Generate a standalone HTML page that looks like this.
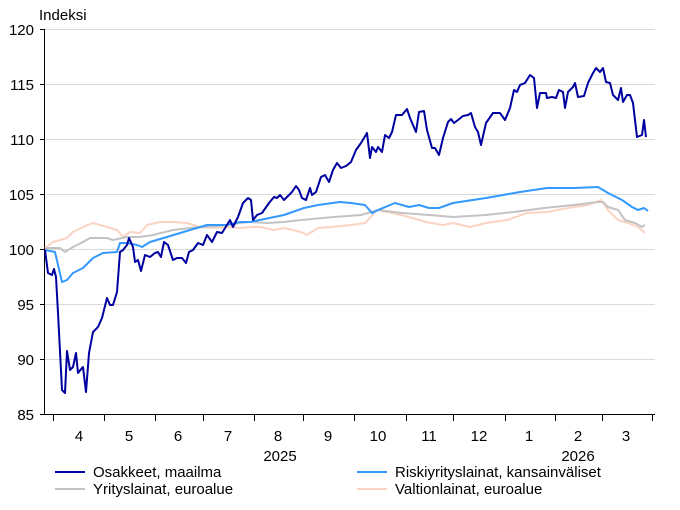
<!DOCTYPE html>
<html><head><meta charset="utf-8"><style>body{margin:0;background:#fff}svg{display:block;font-family:"Liberation Sans",Arial,sans-serif}</style></head><body>
<svg width="680" height="510" viewBox="0 0 680 510" xmlns="http://www.w3.org/2000/svg">
<g stroke="#d9d9d9" stroke-width="1">
<line x1="45" y1="29.5" x2="655" y2="29.5"/><line x1="45" y1="84.5" x2="655" y2="84.5"/><line x1="45" y1="139.5" x2="655" y2="139.5"/><line x1="45" y1="194.5" x2="655" y2="194.5"/><line x1="45" y1="249.5" x2="655" y2="249.5"/><line x1="45" y1="304.5" x2="655" y2="304.5"/><line x1="45" y1="359.5" x2="655" y2="359.5"/>
</g>
<g stroke="#000" stroke-width="1">
<line x1="44.5" y1="29" x2="44.5" y2="415"/><line x1="40" y1="414.5" x2="655" y2="414.5"/>
<line x1="40" y1="29.5" x2="44" y2="29.5"/><line x1="40" y1="84.5" x2="44" y2="84.5"/><line x1="40" y1="139.5" x2="44" y2="139.5"/><line x1="40" y1="194.5" x2="44" y2="194.5"/><line x1="40" y1="249.5" x2="44" y2="249.5"/><line x1="40" y1="304.5" x2="44" y2="304.5"/><line x1="40" y1="359.5" x2="44" y2="359.5"/>
<line x1="53.5" y1="414" x2="53.5" y2="421"/><line x1="104.5" y1="414" x2="104.5" y2="421"/><line x1="155.5" y1="414" x2="155.5" y2="421"/><line x1="203.5" y1="414" x2="203.5" y2="421"/><line x1="254.5" y1="414" x2="254.5" y2="421"/><line x1="303.5" y1="414" x2="303.5" y2="421"/><line x1="354.5" y1="414" x2="354.5" y2="421"/><line x1="406.5" y1="414" x2="406.5" y2="421"/><line x1="453.5" y1="414" x2="453.5" y2="421"/><line x1="505.5" y1="414" x2="505.5" y2="421"/><line x1="555.5" y1="414" x2="555.5" y2="421"/><line x1="602.5" y1="414" x2="602.5" y2="421"/><line x1="652.5" y1="414" x2="652.5" y2="421"/>
</g>
<g font-size="15" fill="#000" text-anchor="end">
<text x="34" y="35">120</text><text x="34" y="90">115</text><text x="34" y="145">110</text><text x="34" y="200">105</text><text x="34" y="255">100</text><text x="34" y="310">95</text><text x="34" y="365">90</text><text x="34" y="420">85</text>
</g>
<text x="39" y="20" font-size="15">Indeksi</text>
<g font-size="15" text-anchor="middle">
<text x="79" y="441">4</text><text x="129" y="441">5</text><text x="178" y="441">6</text><text x="228" y="441">7</text><text x="278" y="441">8</text><text x="328" y="441">9</text><text x="378" y="441">10</text><text x="429" y="441">11</text><text x="479" y="441">12</text><text x="529" y="441">1</text><text x="578" y="441">2</text><text x="626" y="441">3</text>
<text x="280" y="461">2025</text><text x="578" y="461">2026</text>
</g>
<g fill="none" stroke-width="2" stroke-linejoin="round">
<polyline stroke="#fbd3c3" points="45,248 53,242 67,238 73,232 83,227 93,223 100,225 107,227 117,230 123,237 130,232 140,233 147,225 160,222 173,222 187,223 200,227 217,228 227,227 240,228 253,227 260,227 274,230 284,228 301,232 307,235 318,228 331,227 351,225 365,223 377,210 392,213 409,217 426,222 443,225 453,223 470,227 486,223 507,220 527,213 547,212 568,208 588,205 601,200 608,210 618,220 628,223 638,227 645,233"/>
<polyline stroke="#c3c3c3" points="45,248 60,248 65,252 73,247 83,242 90,238 107,238 113,240 127,237 140,237 153,235 173,230 190,228 207,227 227,225 240,223 250,222 267,223 284,222 301,220 334,217 361,215 378,210 402,213 429,215 453,217 486,215 514,212 544,208 574,205 598,202 603,202 608,207 618,210 625,220 635,223 642,227 645,225"/>
<polyline stroke="#3399ff" points="45,250 55,252 62,282 67,280 73,273 83,268 93,258 103,253 117,252 120,243 127,243 137,245 142,247 150,242 167,237 190,230 207,225 227,225 240,222 250,222 284,215 304,208 318,205 340,202 351,203 365,205 372,213 378,210 395,203 409,207 419,205 429,208 439,208 453,203 486,198 520,192 547,188 574,188 598,187 608,193 622,200 632,207 638,210 644,208 648,211"/>
<polyline stroke="#0000a0" points="45,250 48,273 52,275 54,269 56,277 58,313 62,390 65,393 67,351 70,370 73,367 76,353 78,373 82,368 83,367 86,392 89,353 93,332 98,327 102,318 107,298 110,305 113,305 117,292 120,252 123,250 127,245 129,238 133,247 135,262 138,260 141,271 145,255 150,257 155,253 158,252 161,257 164,242 168,245 173,260 177,258 182,258 186,263 189,252 193,250 198,243 203,245 207,235 212,242 217,232 222,233 230,220 233,227 238,217 243,203 248,198 251,200 253,220 257,215 262,213 269,203 274,197 277,198 280,195 284,200 289,195 292,192 296,186 299,190 302,198 306,200 310,188 312,195 316,192 321,177 325,175 329,182 333,170 337,163 341,168 346,166 351,162 356,150 361,143 367,133 370,158 372,147 376,152 378,147 382,152 385,135 389,138 392,132 396,115 402,115 407,109 410,118 416,132 419,112 424,111 427,130 432,148 435,148 439,155 443,138 448,122 451,119 454,123 458,120 463,116 468,115 471,113 475,127 478,132 481,145 486,123 493,113 500,113 505,120 510,108 514,90 517,92 520,85 525,83 530,75 534,78 537,108 540,93 546,93 547,98 552,97 556,98 559,90 563,92 565,108 568,92 573,87 575,83 578,97 584,96 588,83 593,73 596,68 600,72 603,68 606,82 610,83 613,95 618,100 621,88 623,102 627,95 630,95 633,103 637,137 642,135 644,120 646,137"/>
</g>
<g stroke-width="2">
<line x1="55" y1="472" x2="85" y2="472" stroke="#0000a0"/>
<line x1="55" y1="489" x2="85" y2="489" stroke="#c3c3c3"/>
<line x1="357" y1="472" x2="387" y2="472" stroke="#3399ff"/>
<line x1="357" y1="489" x2="387" y2="489" stroke="#fbd3c3"/>
</g>
<g font-size="15">
<text x="93" y="477">Osakkeet, maailma</text>
<text x="93" y="494">Yrityslainat, euroalue</text>
<text x="395" y="477">Riskiyrityslainat, kansainväliset</text>
<text x="395" y="494">Valtionlainat, euroalue</text>
</g>
</svg>
</body></html>
